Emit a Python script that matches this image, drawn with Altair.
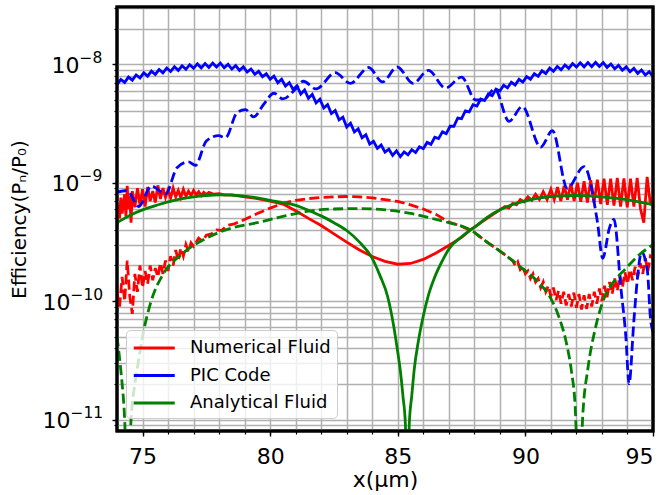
import altair as alt
import numpy as np
import pandas as pd

# ---------------------------------------------------------------------------
# Series values (x in µm). Efficiencies are stored in the unit noted per list.
# ---------------------------------------------------------------------------
models = ["Numerical Fluid", "PIC Code", "Analytical Fluid"]
model_colors = ["#ff0000", "#0000ff", "#008000"]

X_DOMAIN = [74.0, 95.0]
Y_DOMAIN = [8e-12, 3.05e-8]

# Numerical Fluid, solid (units of 1e-10)
num_solid_x = [
    74.0, 74.05, 74.1, 74.15, 74.2, 74.3, 74.35, 74.4, 74.45, 74.5, 74.55, 74.6,
    74.7, 74.8, 74.9, 75.0, 75.1, 75.2, 75.3, 75.4, 75.5, 75.6, 75.7, 75.8, 75.9,
    76.0, 76.1, 76.2, 76.3, 76.4, 76.5, 76.6, 76.7, 76.8, 76.9, 77.0, 77.1, 77.2,
    77.3, 77.4, 77.5, 77.6, 77.8, 78.0, 78.2, 78.5,
    79.0, 79.5, 80.0, 80.5, 81.0, 81.5, 82.0, 82.5, 83.0, 83.5, 84.0, 84.5, 85.0,
    85.5, 86.0, 86.5, 87.0, 87.5, 87.85, 88.5, 89.0,
    89.2, 89.35, 89.5, 89.65, 89.8, 89.95, 90.1, 90.25, 90.4, 90.55, 90.7, 90.85,
    91.0, 91.13, 91.26, 91.39, 91.52, 91.65, 91.78, 91.91, 92.04, 92.17, 92.3,
    92.43, 92.56, 92.69, 92.82, 92.95, 93.08, 93.21, 93.34, 93.47, 93.6, 93.73,
    93.86, 93.99, 94.12, 94.25, 94.38, 94.51, 94.64, 94.77, 94.9, 95.0,
]
num_solid = [
    4.2, 6.5, 5.0, 7.5, 5.5, 8.0, 5.2, 9.4, 6.0, 7.8, 4.6, 8.5,
    6.2, 9.0, 6.5, 8.8, 6.3, 9.2, 7.0, 8.5, 6.8, 9.5, 7.3, 9.0, 7.5,
    8.7, 7.4, 9.0, 7.6, 8.6, 7.5, 8.8, 7.7, 8.5, 7.8, 8.6, 7.9, 8.4,
    7.8, 8.3, 7.9, 8.3, 8.0, 8.1, 7.9, 7.9,
    7.6, 7.35, 7.0, 6.6, 5.8, 5.0, 4.35, 3.7, 3.15, 2.7, 2.38, 2.17, 2.05,
    2.08, 2.25, 2.55, 2.95, 3.45, 4.0, 5.0, 5.9,
    6.3, 6.1, 6.7, 6.5, 7.2, 6.9, 7.6, 7.1, 8.0, 7.2, 8.4, 7.2,
    8.8, 7.2, 9.2, 7.0, 9.4, 7.2, 9.8, 7.0, 10.0, 6.9, 10.3,
    6.8, 10.5, 6.8, 10.6, 6.6, 10.8, 6.5, 10.8, 6.4, 11.0, 6.3,
    10.9, 6.2, 10.8, 6.3, 11.0, 6.0, 4.6, 11.2, 6.5, 7.5,
]

# Numerical Fluid, dashed (units of 1e-10)
num_dash_x = [
    74.0, 74.1, 74.2, 74.3, 74.4, 74.5, 74.6, 74.7, 74.8, 74.9, 75.0, 75.1, 75.2,
    75.3, 75.4, 75.5, 75.6, 75.7, 75.8, 75.9, 76.0, 76.1, 76.2, 76.3, 76.4, 76.5,
    76.6, 76.7, 76.8, 76.9, 77.0, 77.2, 77.35, 77.5, 77.7, 77.9, 78.1, 78.3,
    78.6, 79.0, 79.5, 80.0, 80.5, 81.0, 81.5, 82.0, 82.5, 83.0, 83.5, 84.0, 84.5,
    85.0, 85.5, 86.0, 86.5, 87.0, 87.5, 88.0, 88.5, 89.0,
    89.5, 89.6, 89.7, 89.8, 89.9, 90.0, 90.1, 90.2, 90.3, 90.4, 90.5, 90.6, 90.7,
    90.8, 90.9, 91.0, 91.1, 91.2, 91.3, 91.4, 91.5, 91.6, 91.7, 91.8, 91.9, 92.0,
    92.1, 92.2, 92.3, 92.4, 92.5, 92.6, 92.7, 92.8, 92.9, 93.0, 93.1, 93.2, 93.3,
    93.4, 93.5, 93.6, 93.7, 93.8, 93.9, 94.0, 94.1, 94.2, 94.3, 94.4, 94.5, 94.6,
    94.7, 94.8, 94.9, 95.0,
]
num_dash = [
    1.2, 0.9, 1.6, 1.0, 2.2, 1.1, 0.78, 1.7, 1.2, 2.0, 1.3, 1.8, 1.4,
    2.0, 1.5, 1.9, 1.6, 2.1, 1.7, 2.2, 1.8, 2.4, 2.0, 2.7, 2.2, 2.8,
    2.4, 3.0, 2.6, 3.1, 2.9, 3.4, 3.2, 3.6, 3.7, 4.0, 3.95, 4.35,
    4.5, 4.9, 5.5, 6.1, 6.7, 7.1, 7.35, 7.5, 7.6, 7.65, 7.6, 7.45, 7.2,
    6.95, 6.5, 6.0, 5.4, 4.65, 4.3, 3.8, 3.15, 2.65,
    2.2, 2.0, 2.15, 1.85, 1.95, 1.7, 1.8, 1.55, 1.7, 1.45, 1.55, 1.3, 1.45,
    1.2, 1.35, 1.1, 1.3, 1.02, 1.22, 0.95, 1.2, 0.92, 1.15, 0.9, 1.18, 0.88,
    1.15, 0.85, 1.12, 0.86, 1.15, 0.9, 1.2, 0.95, 1.28, 1.0, 1.35, 1.08, 1.45,
    1.15, 1.55, 1.22, 1.65, 1.3, 1.75, 1.4, 1.85, 1.5, 1.95, 1.6, 2.1, 1.7,
    2.3, 1.8, 2.4, 2.3,
]

# PIC Code, solid (units of 1e-9), one value every 0.15 µm from 74 to 95
pic_solid_x = np.round(np.arange(74.0, 95.0001, 0.15), 2)
pic_solid = [
    6.72, 7.46, 7.04, 7.80, 7.35, 8.14, 7.68, 8.48, 7.95, 8.76,
    8.21, 9.04, 8.47, 9.32, 8.71, 9.53, 8.89, 9.73, 9.08, 9.93,
    9.26, 10.08, 9.34, 10.15, 9.41, 10.23, 9.48, 10.25, 9.35, 10.00,
    9.12, 9.76, 8.89, 9.51, 8.61, 9.13, 8.24, 8.73, 7.86, 8.32,
    7.49, 7.96, 6.98, 7.49, 6.56, 7.01, 6.13, 6.59, 5.62, 6.08,
    5.17, 5.58, 4.72, 5.07, 4.28, 4.57, 3.84, 4.08, 3.40, 3.58,
    2.96, 3.18, 2.68, 2.86, 2.40, 2.54, 2.12, 2.24, 1.95, 2.08,
    1.81, 1.92, 1.70, 1.86, 1.66, 1.82, 1.72, 1.90, 1.80, 2.01,
    1.94, 2.19, 2.11, 2.42, 2.36, 2.69, 2.60, 3.00, 3.00, 3.52,
    3.48, 4.04, 3.96, 4.56, 4.44, 5.09, 4.94, 5.63, 5.44, 6.18,
    5.95, 6.66, 6.33, 7.06, 6.70, 7.47, 7.08, 7.88, 7.49, 8.35,
    7.92, 8.82, 8.35, 9.29, 8.73, 9.60, 8.99, 9.88, 9.24, 10.16,
    9.50, 10.32, 9.53, 10.35, 9.56, 10.38, 9.59, 10.36, 9.43, 10.08,
    9.17, 9.80, 8.91, 9.52, 8.65, 9.24, 8.39, 8.95, 8.13, 8.67,
    7.87,
]

# PIC Code, dashed (units of 1e-9)
pic_dash_x = [
    74.0, 74.4, 74.85, 75.35, 75.9, 76.35, 76.8, 77.07, 77.5, 77.98, 78.25,
    78.7, 79.03, 79.35, 79.75, 80.15, 80.5, 81.0, 81.3, 81.8, 82.55, 83.14,
    83.86, 84.4, 84.98, 85.6, 86.2, 86.87, 87.5, 88.05, 88.35, 88.8, 89.36,
    89.88, 90.6, 91.06, 91.64, 92.3, 92.82, 93.03, 93.3, 93.47, 93.74, 93.94,
    94.06, 94.25, 94.38, 94.55, 94.78, 94.9, 95.0,
]
pic_dash = [
    0.83, 0.86, 0.63, 0.94, 0.80, 1.34, 1.50, 1.40, 2.25, 2.50, 2.40,
    3.90, 4.15, 3.60, 4.60, 5.70, 5.10, 6.20, 7.20, 6.20, 8.50, 6.90,
    9.40, 7.10, 9.50, 6.90, 8.90, 6.30, 7.80, 5.00, 5.00, 6.20, 3.30,
    4.40, 2.00, 2.75, 0.90, 1.37, 0.47, 0.23, 0.42, 0.49, 0.13, 0.049,
    0.020, 0.068, 0.148, 0.26, 0.18, 0.072, 0.055,
]

# Analytical Fluid, solid (units of 1e-10)
ana_solid_x = [
    74.0, 74.5, 75.0, 75.5, 76.0, 76.5, 77.0, 77.5, 78.0, 78.5, 79.0, 79.5, 80.0,
    80.5, 81.0, 81.5, 82.0, 82.5, 83.0, 83.5, 84.0, 84.3, 84.6, 84.85, 85.0, 85.1,
    85.2, 85.3, 85.37, 85.45, 85.55, 85.65, 85.8, 86.0, 86.2, 86.45, 86.75, 87.0,
    87.5, 87.85, 88.0, 88.5, 89.0, 89.5, 90.0, 90.5, 91.0, 91.5, 92.0, 92.5, 93.0,
    93.5, 94.0, 94.5, 95.0,
]
ana_solid = [
    4.6, 5.3, 5.9, 6.4, 6.9, 7.3, 7.6, 7.8, 7.9, 7.85, 7.7, 7.45, 7.1,
    6.75, 6.45, 5.85, 5.25, 4.6, 3.95, 3.15, 2.3, 1.65, 1.1, 0.6, 0.37, 0.26,
    0.16, 0.09, 0.02, 0.09, 0.16, 0.27, 0.45, 0.75, 1.12, 1.6, 2.2, 2.75,
    3.5, 4.0, 4.2, 5.1, 5.9, 6.55, 7.0, 7.4, 7.65, 7.75, 7.8, 7.75, 7.6,
    7.4, 7.15, 6.85, 6.5,
]

# Analytical Fluid, dashed (units of 1e-10)
ana_dash_x = [
    74.0, 74.15, 74.3, 74.42, 74.55, 74.7, 74.85, 75.0, 75.3, 75.8, 76.5, 77.5,
    78.5, 79.5, 80.5, 81.5, 82.5, 83.5, 84.5, 85.5, 86.5, 87.0, 87.5, 87.85,
    88.25, 88.5, 89.0, 89.5, 90.0, 90.5, 91.0, 91.3, 91.6, 91.8, 91.95, 92.1,
    92.25, 92.45, 92.75, 93.1, 93.5, 93.9, 94.4, 95.0,
]
ana_dash = [
    0.50, 0.26, 0.10, 0.02, 0.10, 0.20, 0.32, 0.50, 0.94, 1.68, 2.45, 3.4,
    4.15, 4.6, 5.2, 5.75, 6.0, 6.05, 5.9, 5.5, 4.9, 4.6, 4.3, 4.0,
    3.45, 3.15, 2.65, 2.2, 1.8, 1.45, 1.05, 0.75, 0.45, 0.26, 0.13, 0.02,
    0.11, 0.27, 0.60, 1.08, 1.5, 1.85, 2.4, 3.0,
]

# Axis ticks; the decade labels are written as a base "10" plus a raised exponent
x_major = [75, 80, 85, 90, 95]
x_minor = list(range(75, 95))
y_major = [1e-11, 1e-10, 1e-9, 1e-8]
y_exponents = ["−11", "−10", "−9", "−8"]
y_minor = [m * 10.0 ** e for e in range(-12, -7) for m in range(1, 10)
           if Y_DOMAIN[0] < m * 10.0 ** e < Y_DOMAIN[1]]


def frame(xs, ys, unit, model):
    return pd.DataFrame({"x": np.asarray(xs, dtype=float),
                         "y": np.asarray(ys, dtype=float) * unit,
                         "model": model})


FONT = "DejaVu Sans"
GRID = "#b0b0b0"
DASH = [10, 4.3]
LINE_W = 2.8
TWO_DIGIT_EXP = "datum.value < 5e-10"   # exponents -10 and -11 are wider

x_scale = alt.Scale(domain=X_DOMAIN, nice=False, zero=False)
y_scale = alt.Scale(type="log", domain=Y_DOMAIN, nice=False)
color_scale = alt.Scale(domain=models, range=model_colors)

exp_expr = " : ".join(
    f"datum.value > {v / 3:g} ? '{lab}'"
    for v, lab in sorted(zip(y_major, y_exponents), reverse=True)
) + " : ''"

x_minor_axis = alt.Axis(values=x_minor, labels=False, tickSize=3, tickWidth=1.2,
                        tickColor="black", grid=True, gridColor=GRID, gridWidth=1.5,
                        domain=False, title=None, orient="bottom")
x_major_axis = alt.Axis(values=x_major, tickSize=5, tickWidth=1.4, tickColor="black",
                        grid=False, domain=False, orient="bottom", title="x(µm)",
                        labelFont=FONT, labelFontSize=22, labelColor="black",
                        labelPadding=10, titleFont=FONT, titleFontSize=22,
                        titleFontWeight="normal", titleColor="black", titlePadding=2)
y_minor_axis = alt.Axis(values=y_minor, labels=False, tickSize=3, tickWidth=1.2,
                        tickColor="black", grid=True, gridColor=GRID, gridWidth=1.5,
                        domain=False, title=None, orient="left")
# base "10" of each decade label
y_base_axis = alt.Axis(values=y_major, labelExpr="'10'", tickSize=5, tickWidth=1.4,
                       tickColor="black", grid=False, domain=False, orient="left",
                       labelAlign="right", labelBaseline="middle",
                       labelPadding={"condition": {"test": TWO_DIGIT_EXP, "value": 42},
                                     "value": 33},
                       labelOffset=1, labelFont=FONT, labelFontSize=22,
                       labelColor="black", title="Efficiency(Pₙ/P₀)",
                       titleFont=FONT, titleFontSize=20, titleFontWeight="normal",
                       titleColor="black", titlePadding=13)
# raised exponent of each decade label
y_exp_axis = alt.Axis(values=y_major, labelExpr=exp_expr, ticks=False, tickSize=0,
                      grid=False, domain=False, orient="left", labelAlign="left",
                      labelBaseline="middle",
                      labelPadding={"condition": {"test": TWO_DIGIT_EXP, "value": 47},
                                    "value": 38},
                      labelOffset=-7, labelFont=FONT, labelFontSize=15.5,
                      labelColor="black", title=None)

legend = alt.Legend(title=None, orient="none", legendX=9, legendY=323,
                    symbolType="M-1,0L3,0", symbolSize=420, symbolStrokeWidth=LINE_W,
                    labelFont=FONT, labelFontSize=18, labelColor="black",
                    labelOffset=34, fillColor="rgba(255,255,255,0.8)",
                    strokeColor="#cccccc", cornerRadius=4, padding=6, rowPadding=6.5)


def line(df, dashed, interp, x_axis=None, y_axis=None, show_legend=False):
    mark_kw = dict(strokeWidth=LINE_W, clip=True, interpolate=interp)
    if dashed:
        mark_kw["strokeDash"] = DASH
    return alt.Chart(df).mark_line(**mark_kw).encode(
        x=alt.X("x:Q", scale=x_scale, axis=x_axis),
        y=alt.Y("y:Q", scale=y_scale, axis=y_axis),
        color=alt.Color("model:N", scale=color_scale,
                        legend=legend if show_legend else None),
        order=alt.Order("x:Q"),
    )


# Black frame around the plotting area, drawn over the curves
box = pd.DataFrame({"x0": [X_DOMAIN[0]], "x1": [X_DOMAIN[1]],
                    "y0": [Y_DOMAIN[0]], "y1": [Y_DOMAIN[1]]})
frame_layer = alt.Chart(box).mark_rect(filled=False, stroke="black", strokeOpacity=1,
                                       strokeWidth=3, clip=False).encode(
    x=alt.X("x0:Q", scale=x_scale, axis=None), x2="x1:Q",
    y=alt.Y("y0:Q", scale=y_scale, axis=None), y2="y1:Q",
)

layers = [
    line(frame(num_solid_x, num_solid, 1e-10, models[0]), False, "linear",
         x_axis=x_minor_axis, y_axis=y_minor_axis, show_legend=True),
    line(frame(num_dash_x, num_dash, 1e-10, models[0]), True, "linear",
         x_axis=x_major_axis, y_axis=y_base_axis),
    line(frame(pic_solid_x, pic_solid, 1e-9, models[1]), False, "linear",
         y_axis=y_exp_axis),
    line(frame(pic_dash_x, pic_dash, 1e-9, models[1]), True, "monotone"),
    line(frame(ana_solid_x, ana_solid, 1e-10, models[2]), False, "monotone"),
    line(frame(ana_dash_x, ana_dash, 1e-10, models[2]), True, "monotone"),
    frame_layer,
]

chart = (
    alt.layer(*layers)
    .resolve_axis(x="independent", y="independent")
    .properties(width=536, height=424,
                padding={"left": 117, "top": 7, "right": 12, "bottom": 64},
                autosize=alt.AutoSizeParams(type="none"))
    .configure(background="white")
    .configure_view(stroke="black", strokeWidth=3)
)

chart.save("out.html", embed_options={"renderer": "svg", "actions": False})
